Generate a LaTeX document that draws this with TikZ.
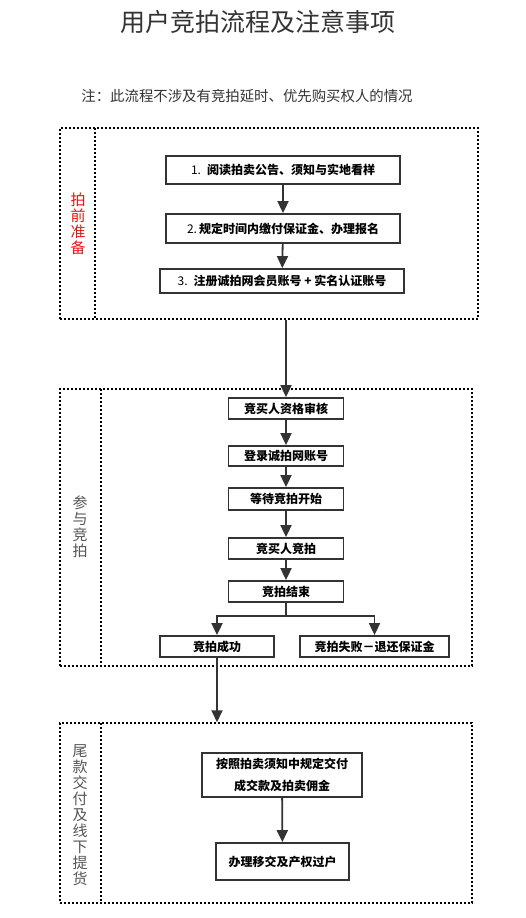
\documentclass[tikz,border=0pt]{standalone}
\usepackage{fontspec}
\setmainfont{Noto Sans CJK SC}
\usetikzlibrary{arrows.meta}
\definecolor{boxgray}{HTML}{333333}
\definecolor{labgray}{HTML}{555555}
\definecolor{labred}{HTML}{EE1111}

\begin{document}
\begin{tikzpicture}[x=1pt,y=-1pt]
      \tikzstyle{every node}+=[inner sep=0pt]
      \tikzstyle{stepbox}=[draw=boxgray, line width=1.8pt, fill=white, align=center, font=\fontsize{12}{22}\selectfont\bfseries]
      \tikzstyle{frame}=[draw=black, line width=1.5pt, dash pattern=on 1.6pt off 2.4pt]
      \tikzstyle{flow}=[draw=boxgray, line width=1.8pt, -{Triangle[length=12pt,width=11pt]}]
      \tikzstyle{side}=[align=center, font=\fontsize{15}{16}\selectfont]
      \useasboundingbox (0,0) rectangle (526,918);
      % heading
      \node [text=boxgray, font=\fontsize{25}{25}\selectfont] (title) at (258,22) {用户竞拍流程及注意事项};
      \node [text=boxgray, font=\fontsize{14.4}{14.4}\selectfont] (note) at (247,96) {注：此流程不涉及有竞拍延时、优先购买权人的情况};
      % frames
      \node [frame, minimum width=418pt, minimum height=191pt] (prep) at (269,223.5) {};
      \draw [frame] (95,128) -- (95,319);
      \node [frame, minimum width=412pt, minimum height=277pt] (bid) at (266,527.5) {};
      \draw [frame] (101,389) -- (101,666);
      \node [frame, minimum width=412pt, minimum height=180pt] (fin) at (266,813) {};
      \draw [frame] (101,723) -- (101,903);
      % side labels
      \node [side, text=labred] (lprep) at (78,224) {拍\\前\\准\\备};
      \node [side, text=labgray] (lbid) at (80,527) {参\\与\\竞\\拍};
      \node [side, text=labgray] (lfin) at (80,815) {尾\\款\\交\\付\\及\\线\\下\\提\\货};
      % section 1
      \node [stepbox, minimum width=234pt, minimum height=28pt] (read) at (283,170) {\mdseries 1.\enspace\bfseries 阅读拍卖公告、须知与实地看样};
      \node [stepbox, minimum width=234pt, minimum height=29pt] (deposit) at (283,228.5) {\mdseries 2.\,\bfseries 规定时间内缴付保证金、办理报名};
      \node [stepbox, minimum width=244pt, minimum height=24pt] (account) at (282,281) {\mdseries 3.\enspace\bfseries 注册诚拍网会员账号 + 实名认证账号};
      \draw [flow] (read) -- (deposit);
      \draw [flow] (deposit) -- (account);
      % section 2
      \node [stepbox, minimum width=115pt, minimum height=21pt] (check) at (286,408.5) {竞买人资格审核};
      \node [stepbox, minimum width=115pt, minimum height=20pt] (login) at (286,456) {登录诚拍网账号};
      \node [stepbox, minimum width=115pt, minimum height=22pt] (wait) at (286,499) {等待竞拍开始};
      \node [stepbox, minimum width=115pt, minimum height=21pt] (bidding) at (286,548.5) {竞买人竞拍};
      \node [stepbox, minimum width=115pt, minimum height=21pt] (close) at (286,591.5) {竞拍结束};
      \node [stepbox, minimum width=114pt, minimum height=21pt] (win) at (217,646.5) {竞拍成功};
      \node [stepbox, minimum width=149pt, minimum height=21pt] (lose) at (374.5,646.5) {竞拍失败－退还保证金};
      \draw [flow] (prep.south -| check) -- (check);
      \draw [flow] (check) -- (login);
      \draw [flow] (login) -- (wait);
      \draw [flow] (wait) -- (bidding);
      \draw [flow] (bidding) -- (close);
      \draw [draw=boxgray, line width=1.8pt] (close.south) -- ++(0,13) coordinate (fork);
      \draw [flow] (fork) -| (win);
      \draw [flow] (fork) -| (lose);
      % section 3
      \node [stepbox, minimum width=160pt, minimum height=44pt] (pay) at (282,775) {按照拍卖须知中规定交付\\成交款及拍卖佣金};
      \node [stepbox, minimum width=133pt, minimum height=37pt] (transfer) at (282.5,861.5) {办理移交及产权过户};
      \draw [flow] (win.south) -- (win.south |- fin.north);
      \draw [flow] (pay) -- (transfer);
\end{tikzpicture}
\end{document}
